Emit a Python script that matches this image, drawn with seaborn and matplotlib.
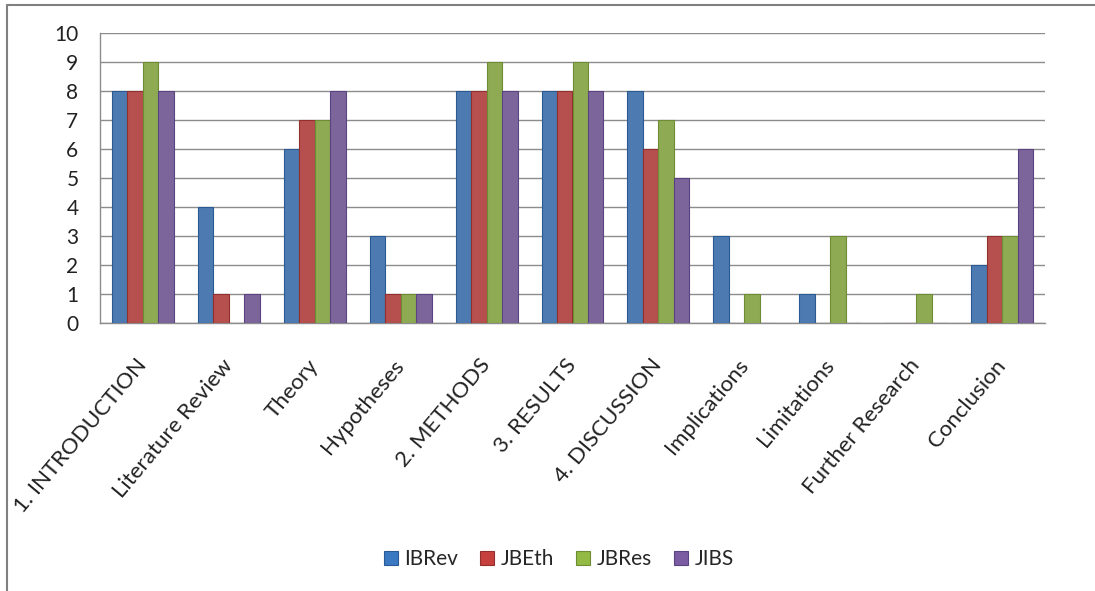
import matplotlib
matplotlib.use("Agg")
import matplotlib.pyplot as plt
from matplotlib.lines import Line2D
import seaborn as sns
import pandas as pd
import numpy as np

categories = ["1. INTRODUCTION", "Literature Review", "Theory", "Hypotheses", "2. METHODS",
              "3. RESULTS", "4. DISCUSSION", "Implications", "Limitations",
              "Further Research", "Conclusion"]
series_names = ["IBRev", "JBEth", "JBRes", "JIBS"]
ibrev = [8, 4, 6, 3, 8, 8, 8, 3, 1, 0, 2]
jbeth = [8, 1, 7, 1, 8, 8, 6, 0, 0, 0, 3]
jbres = [9, 0, 7, 1, 9, 9, 7, 1, 3, 1, 3]
jibs = [8, 1, 8, 1, 8, 8, 5, 0, 0, 0, 6]
y_ticks = list(range(0, 11))

colors = ["#3B78C2", "#C6403D", "#93BA45", "#7B5CA3"]
edge_colors = ["#2A5A94", "#93302D", "#6E8C33", "#5A4380"]

rows = []
for name, vals in zip(series_names, [ibrev, jbeth, jbres, jibs]):
    for c, v in zip(categories, vals):
        rows.append({"Category": c, "Series": name, "Value": v})
df = pd.DataFrame(rows)

sns.set_style("white")
plt.rcParams['font.family'] = ['Lato', 'DejaVu Sans']

fig = plt.figure(figsize=(10.95, 5.91), dpi=100)
ax = fig.add_axes([100/1095, 1 - 323/591, (1045-100)/1095, (323-33)/591])

sns.barplot(data=df, x="Category", y="Value", hue="Series", order=categories,
            hue_order=series_names, palette=colors, width=0.72, ax=ax,
            errorbar=None, legend=False, zorder=3)

n = len(categories)
for i, patch in enumerate(ax.patches[:n * len(series_names)]):
    s = i // n
    patch.set_edgecolor(edge_colors[s])
    patch.set_linewidth(0.8)

ax.set_ylim(0, 10)
ax.set_xlim(-0.5, n - 0.5)
ax.set_yticks(y_ticks)
ax.set_yticklabels([str(t) for t in y_ticks], fontsize=15, color="#222222")
ax.yaxis.grid(True, color="#8C8C8C", linewidth=1.0, zorder=0)
ax.set_axisbelow(True)
ax.set_xlabel("")
ax.set_ylabel("")

ax.set_xticks(range(n))
ax.set_xticklabels(categories, rotation=50, ha="right", va="center", rotation_mode="anchor",
                   fontsize=16, color="#222222")
ax.tick_params(axis="x", which="major", length=0, pad=28)
ax.set_xticks(np.arange(-0.5, n, 1.0), minor=True)
ax.tick_params(axis="x", which="minor", length=6, color="#8C8C8C", width=1, direction="out")
ax.tick_params(axis="y", which="major", length=6.5, color="#8C8C8C", width=1, direction="out", pad=9)

for side in ["top", "right"]:
    ax.spines[side].set_visible(False)
for side in ["left", "bottom"]:
    ax.spines[side].set_color("#8C8C8C")
    ax.spines[side].set_linewidth(1.0)

handles = [plt.Rectangle((0, 0), 1, 1, facecolor=c, edgecolor=e, linewidth=0.8)
           for c, e in zip(colors, edge_colors)]
fig.legend(handles, series_names, loc="center", bbox_to_anchor=(559/1095, 1 - 559/591),
           ncol=4, frameon=False, fontsize=15, handlelength=0.67, handleheight=0.67,
           handletextpad=0.33, columnspacing=1.05)

fig.add_artist(Line2D([7/1095, 1], [1 - 5/591, 1 - 5/591], transform=fig.transFigure,
                      color="#808080", linewidth=1.5))
fig.add_artist(Line2D([7/1095, 7/1095], [0, 1 - 5/591], transform=fig.transFigure,
                      color="#808080", linewidth=1.5))

fig.savefig("out.png", dpi=100)
